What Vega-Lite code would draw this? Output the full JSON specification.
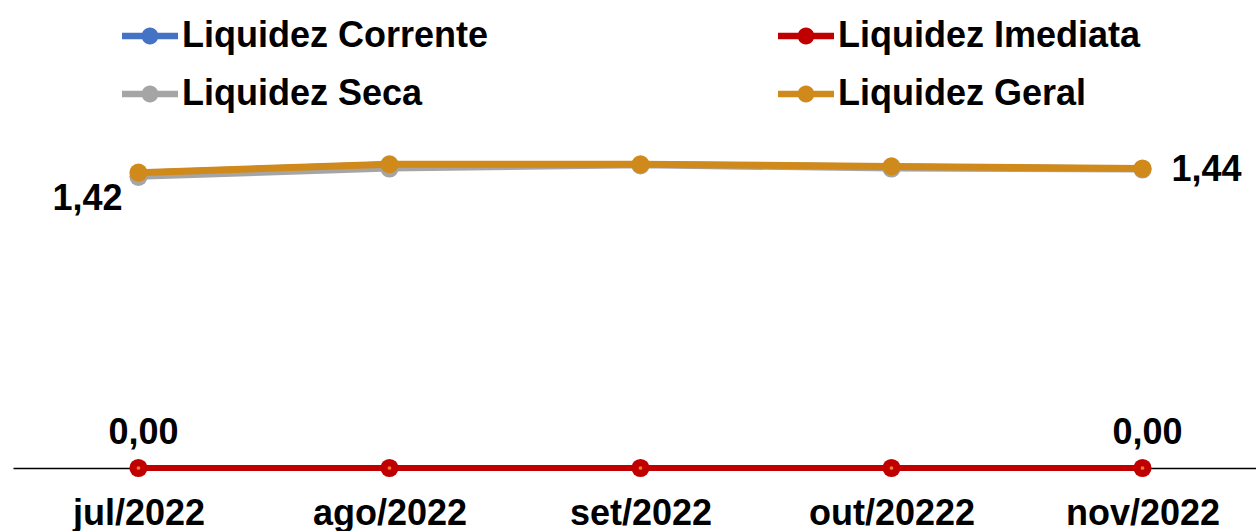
{
  "$schema": "https://vega.github.io/schema/vega-lite/v6.json",
  "width": 1243,
  "height": 468,
  "autosize": {"type": "none"},
  "padding": {"left": 13, "top": 0, "right": 0, "bottom": 63},
  "background": "white",
  "config": {
    "view": {"stroke": null},
    "font": "Liberation Sans",
    "locale": {"number": {"decimal": ",", "thousands": ".", "grouping": [3], "currency": ["R$", ""]}}
  },
  "data": {
    "values": [
      {"mes": "jul/2022", "serie": "Liquidez Corrente", "valor": 1.42},
      {"mes": "ago/2022", "serie": "Liquidez Corrente", "valor": 1.46},
      {"mes": "set/2022", "serie": "Liquidez Corrente", "valor": 1.46},
      {"mes": "out/20222", "serie": "Liquidez Corrente", "valor": 1.45},
      {"mes": "nov/2022", "serie": "Liquidez Corrente", "valor": 1.44},
      {"mes": "jul/2022", "serie": "Liquidez Imediata", "valor": 0.0},
      {"mes": "ago/2022", "serie": "Liquidez Imediata", "valor": 0.0},
      {"mes": "set/2022", "serie": "Liquidez Imediata", "valor": 0.0},
      {"mes": "out/20222", "serie": "Liquidez Imediata", "valor": 0.0},
      {"mes": "nov/2022", "serie": "Liquidez Imediata", "valor": 0.0},
      {"mes": "jul/2022", "serie": "Liquidez Seca", "valor": 1.40},
      {"mes": "ago/2022", "serie": "Liquidez Seca", "valor": 1.44},
      {"mes": "set/2022", "serie": "Liquidez Seca", "valor": 1.455},
      {"mes": "out/20222", "serie": "Liquidez Seca", "valor": 1.44},
      {"mes": "nov/2022", "serie": "Liquidez Seca", "valor": 1.435},
      {"mes": "jul/2022", "serie": "Liquidez Geral", "valor": 1.42},
      {"mes": "ago/2022", "serie": "Liquidez Geral", "valor": 1.46},
      {"mes": "set/2022", "serie": "Liquidez Geral", "valor": 1.46},
      {"mes": "out/20222", "serie": "Liquidez Geral", "valor": 1.45},
      {"mes": "nov/2022", "serie": "Liquidez Geral", "valor": 1.44}
    ]
  },
  "encoding": {
    "x": {
      "field": "mes", "type": "nominal",
      "sort": ["jul/2022", "ago/2022", "set/2022", "out/20222", "nov/2022"],
      "scale": {"type": "point", "padding": 0.476, "align": 0.525},
      "axis": {
        "title": null, "labelAngle": 0, "ticks": false, "tickSize": 0, "grid": false,
        "domainColor": "#000000", "domainWidth": 1.5,
        "labelFont": "Liberation Sans", "labelFontSize": 36, "labelFontWeight": "bold",
        "labelColor": "#000000", "labelPadding": 28
      }
    },
    "y": {
      "field": "valor", "type": "quantitative",
      "scale": {"domain": [0, 2.25], "nice": false, "zero": true},
      "axis": null
    },
    "color": {
      "field": "serie", "type": "nominal",
      "scale": {
        "domain": ["Liquidez Corrente", "Liquidez Imediata", "Liquidez Seca", "Liquidez Geral"],
        "range": ["#4472C4", "#C00000", "#A5A5A5", "#D08A1C"]
      },
      "legend": {
        "title": null, "orient": "none", "legendX": 109, "legendY": 8,
        "direction": "horizontal", "columns": 2, "columnPadding": 289, "rowPadding": 12,
        "symbolType": "M-1,-0.12H1V0.12H-1Z M0.3,0A0.3,0.3,0,1,1,-0.3,0A0.3,0.3,0,1,1,0.3,0Z",
        "symbolSize": 3136, "symbolStrokeWidth": 0, "symbolOpacity": 1,
        "labelFont": "Liberation Sans", "labelFontSize": 36, "labelFontWeight": "bold",
        "labelColor": "#000000", "labelOffset": 4, "labelLimit": 600,
        "encode": {"symbols": {"update": {"fill": {"scale": "color", "field": "value"}, "strokeWidth": {"value": 0}, "opacity": {"value": 1}}}}
      }
    }
  },
  "layer": [
    {"transform": [{"filter": "datum.serie == 'Liquidez Imediata'"}], "mark": {"type": "line", "strokeWidth": 6}},
    {"transform": [{"filter": "datum.serie == 'Liquidez Imediata'"}], "mark": {"type": "point", "filled": true, "size": 330, "opacity": 1}},
    {"transform": [{"filter": "datum.serie == 'Liquidez Imediata'"}], "mark": {"type": "point", "filled": true, "size": 14, "opacity": 1, "color": "#ED7D31"}, "encoding": {"color": {"value": "#ED7D31"}}},
    {"transform": [{"filter": "datum.serie == 'Liquidez Corrente'"}], "mark": {"type": "line", "strokeWidth": 6}},
    {"transform": [{"filter": "datum.serie == 'Liquidez Corrente'"}], "mark": {"type": "point", "filled": true, "size": 200, "opacity": 1}},
    {"transform": [{"filter": "datum.serie == 'Liquidez Seca'"}], "mark": {"type": "line", "strokeWidth": 6}},
    {"transform": [{"filter": "datum.serie == 'Liquidez Seca'"}], "mark": {"type": "point", "filled": true, "size": 330, "opacity": 1}},
    {"transform": [{"filter": "datum.serie == 'Liquidez Geral'"}], "mark": {"type": "line", "strokeWidth": 7}},
    {"transform": [{"filter": "datum.serie == 'Liquidez Geral'"}], "mark": {"type": "point", "filled": true, "size": 330, "opacity": 1}},
    {
      "transform": [{"filter": "datum.serie == 'Liquidez Geral' && datum.mes == 'jul/2022'"}],
      "mark": {"type": "text", "font": "Liberation Sans", "fontSize": 36, "fontWeight": "bold", "align": "center", "baseline": "middle", "dx": -51, "dy": 26},
      "encoding": {"text": {"field": "valor", "type": "quantitative", "format": ".2f"}, "color": {"value": "#000000"}}
    },
    {
      "transform": [{"filter": "datum.serie == 'Liquidez Geral' && datum.mes == 'nov/2022'"}],
      "mark": {"type": "text", "font": "Liberation Sans", "fontSize": 36, "fontWeight": "bold", "align": "left", "baseline": "middle", "dx": 29, "dy": 2},
      "encoding": {"text": {"field": "valor", "type": "quantitative", "format": ".2f"}, "color": {"value": "#000000"}}
    },
    {
      "transform": [{"filter": "datum.serie == 'Liquidez Imediata' && (datum.mes == 'jul/2022' || datum.mes == 'nov/2022')"}],
      "mark": {"type": "text", "font": "Liberation Sans", "fontSize": 36, "fontWeight": "bold", "align": "center", "baseline": "middle", "dx": 5, "dy": -35},
      "encoding": {"text": {"field": "valor", "type": "quantitative", "format": ".2f"}, "color": {"value": "#000000"}}
    }
  ]
}
